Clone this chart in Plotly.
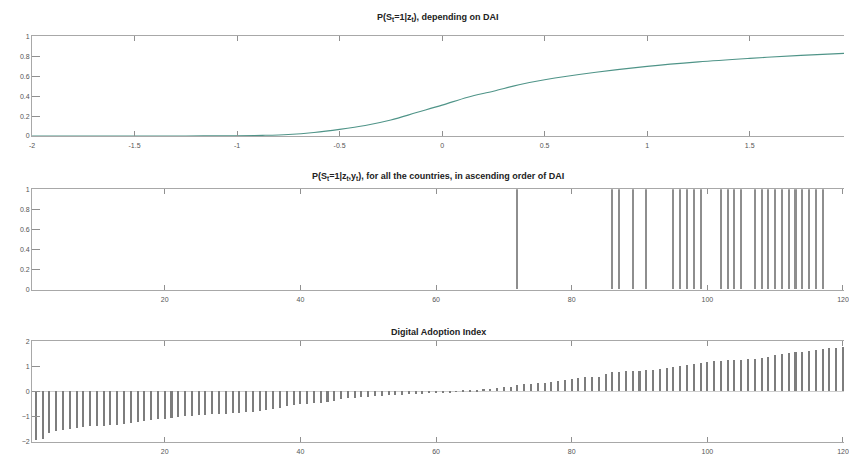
import plotly.graph_objects as go

# ---------------- data ----------------
# Panel 1: P(S_t=1|z_t) as a function of DAI
dai_grid = [-2.0, -1.5, -1.25, -1.0, -0.875, -0.75, -0.625, -0.5, -0.375, -0.25,
            -0.125, 0.0, 0.125, 0.25, 0.375, 0.5, 0.75, 1.0, 1.25, 1.5, 1.75, 1.96]
prob_curve = [0.0, 0.0, 0.0, 0.002, 0.006, 0.015, 0.035, 0.066, 0.105, 0.16,
              0.235, 0.31, 0.39, 0.45, 0.515, 0.565, 0.64, 0.70, 0.745, 0.78, 0.81, 0.83]

# Panels 2 and 3: countries ranked by DAI
country_rank = list(range(1, 121))
prob_by_country = [
    0, 0, 0, 0, 0, 0, 0, 0, 0, 0, 0, 0, 0, 0, 0, 0, 0, 0, 0, 0,
    0, 0, 0, 0, 0, 0, 0, 0, 0, 0, 0, 0, 0, 0, 0, 0, 0, 0, 0, 0,
    0, 0, 0, 0, 0, 0, 0, 0, 0, 0, 0, 0, 0, 0, 0, 0, 0, 0, 0, 0,
    0, 0, 0, 0, 0, 0, 0, 0, 0, 0, 0, 1, 0, 0, 0, 0, 0, 0, 0, 0,
    0, 0, 0, 0, 0, 1, 1, 0, 1, 0, 1, 0, 0, 0, 1, 1, 1, 1, 1, 0,
    0, 1, 1, 1, 1, 0, 1, 1, 1, 1, 1, 1, 1, 1, 1, 1, 1, 0, 0, 0,
]
dai_sorted = [
    -1.96, -1.89, -1.67, -1.59, -1.53, -1.49, -1.45, -1.43, -1.40, -1.39,
    -1.37, -1.36, -1.35, -1.29, -1.27, -1.23, -1.19, -1.16, -1.12, -1.09,
    -1.05, -1.03, -1.00, -0.99, -0.96, -0.93, -0.92, -0.91, -0.89, -0.88,
    -0.85, -0.83, -0.81, -0.80, -0.76, -0.72, -0.65, -0.60, -0.56, -0.52,
    -0.49, -0.47, -0.45, -0.44, -0.40, -0.29, -0.27, -0.25, -0.24, -0.23,
    -0.20, -0.19, -0.17, -0.16, -0.15, -0.13, -0.12, -0.10, -0.09, -0.07,
    -0.06, -0.04, -0.02, 0.02, 0.04, 0.06, 0.08, 0.10, 0.12, 0.15,
    0.18, 0.25, 0.27, 0.29, 0.31, 0.33, 0.36, 0.40, 0.45, 0.50,
    0.53, 0.55, 0.57, 0.58, 0.70, 0.76, 0.78, 0.80, 0.81, 0.82,
    0.84, 0.86, 0.88, 0.92, 0.97, 1.02, 1.05, 1.08, 1.12, 1.18,
    1.20, 1.22, 1.23, 1.24, 1.25, 1.28, 1.30, 1.33, 1.37, 1.43,
    1.48, 1.52, 1.55, 1.58, 1.62, 1.65, 1.68, 1.71, 1.74, 1.76,
]

titles = [
    "P(S<sub>t</sub>=1|z<sub>t</sub>), depending on DAI",
    "P(S<sub>t</sub>=1|z<sub>t</sub>,y<sub>t</sub>), for all the countries, in ascending order of DAI",
    "Digital Adoption Index",
]

# ---------------- figure ----------------
W, H = 849, 459
FONT = "Liberation Sans"

fig = go.Figure()
fig.add_trace(go.Scatter(x=dai_grid, y=prob_curve, mode="lines",
                         line=dict(color="#4f9488", width=1.1, shape="spline"),
                         xaxis="x", yaxis="y", showlegend=False))
fig.add_trace(go.Bar(x=country_rank, y=prob_by_country, width=0.3,
                     marker=dict(color="#8e8e8e", line=dict(width=0)),
                     xaxis="x2", yaxis="y2", showlegend=False))
fig.add_trace(go.Bar(x=country_rank, y=dai_sorted, width=0.3,
                     marker=dict(color="#7d7d7d", line=dict(width=0)),
                     xaxis="x3", yaxis="y3", showlegend=False))

def ydom(top_px, bot_px):
    return [1 - bot_px / H, 1 - top_px / H]

xdom = [29.3 / W, 1.0]
tickfont = dict(size=7, color="#555555", family=FONT)
xbase = dict(domain=xdom, showline=True, linecolor="#a8a8a8", linewidth=1,
             mirror="ticks", ticks="inside", ticklen=5, tickcolor="#909090",
             showgrid=False, zeroline=False, tickfont=tickfont, ticklabelstandoff=3,
             ticklabeloverflow="allow")
ybase = dict(showline=True, linecolor="#a8a8a8", linewidth=1, mirror=False,
             ticks="inside", ticklen=8, tickcolor="#909090", showgrid=False,
             tickfont=tickfont)

prob_ticks = [0, 0.2, 0.4, 0.6, 0.8, 1]
prob_text = ["0", "0.2", "0.4", "0.6", "0.8", "1"]
rank_ticks = [20, 40, 60, 80, 100, 120]

fig.update_layout(
    width=W, height=H,
    margin=dict(l=0, r=0, t=0, b=0),
    paper_bgcolor="white", plot_bgcolor="white",
    bargap=0,
    xaxis=dict(xbase, anchor="y", range=[-2, 1.96],
               tickvals=[-2, -1.5, -1, -0.5, 0, 0.5, 1, 1.5],
               ticktext=["-2", "-1.5", "-1", "-0.5", "0", "0.5", "1", "1.5"]),
    yaxis=dict(ybase, domain=ydom(33, 134), anchor="x", range=[0, 1],
               tickvals=prob_ticks, ticktext=prob_text, zeroline=False),
    xaxis2=dict(xbase, anchor="y2", range=[0.43, 120.15], tickvals=rank_ticks),
    yaxis2=dict(ybase, domain=ydom(188, 290), anchor="x2", range=[0, 1],
                tickvals=prob_ticks, ticktext=prob_text, zeroline=False),
    xaxis3=dict(xbase, anchor="y3", range=[0.43, 120.15], tickvals=rank_ticks),
    yaxis3=dict(ybase, domain=ydom(342.5, 444.5), anchor="x3", range=[-2, 2],
                tickvals=[-2, -1, 0, 1, 2], zeroline=True,
                zerolinecolor="#cfcfcf", zerolinewidth=1),
)

title_y_px = [14, 175, 333]
for t, ypx in zip(titles, title_y_px):
    fig.add_annotation(text="<b>" + t + "</b>", xref="paper", yref="paper",
                       x=(xdom[0] + xdom[1]) / 2, y=1 - ypx / H,
                       xanchor="center", yanchor="middle", showarrow=False,
                       font=dict(size=9, color="#222222", family=FONT))

fig.write_html("out.html")
